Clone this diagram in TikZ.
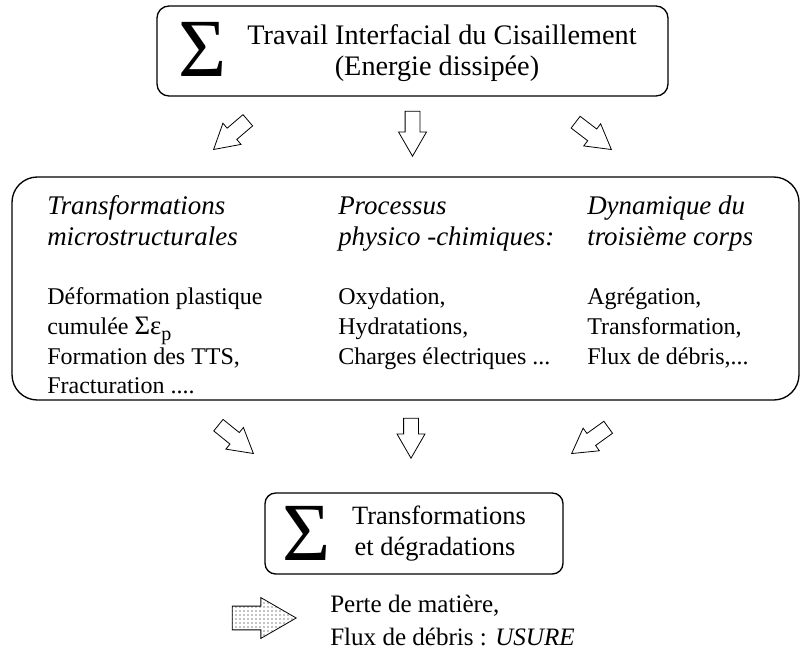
\documentclass[tikz,border=0pt]{standalone}
\usepackage{fontspec}
\setmainfont{Liberation Serif}
\newfontfamily\sigfont{Liberation Serif}
\usetikzlibrary{shapes.arrows,patterns}
\begin{document}
\begin{tikzpicture}[x=0.75pt,y=-0.75pt,
  txt/.style={inner sep=0pt, anchor=base west},
  ctxt/.style={inner sep=0pt, anchor=base},
  topfont/.style={font=\fontsize{21.2pt}{24pt}\selectfont},
  headfont/.style={font=\fontsize{20.2pt}{24pt}\selectfont\itshape},
  bodyfont/.style={font=\fontsize{18pt}{22pt}\selectfont},
  botfont/.style={font=\fontsize{19.8pt}{24pt}\selectfont},
  endfont/.style={font=\fontsize{18.8pt}{22pt}\selectfont},
  sigma/.style={inner sep=0pt, font=\fontsize{62pt}{62pt}\sigfont},
  blockarrow/.style={single arrow, draw, line width=0.6pt, inner xsep=0pt,
    inner ysep=5.25pt, single arrow head extend=4.9pt,
    single arrow tip angle=60, minimum width=0pt, minimum height=33.75pt, anchor=tip}
]
\useasboundingbox (0,0) rectangle (802,667);

% top box
\draw[line width=1pt, rounded corners=9pt] (157,6) rectangle (668,96);
\node[sigma] (s1) at (203,49) {Σ};
\node[topfont, ctxt] (t1) at (442,45) {Travail Interfacial du Cisaillement};
\node[topfont, ctxt] (t2) at (437,75) {(Energie dissipée)};

% top arrows
\node[blockarrow, rotate=-139.5] (a1) at (213,150) {};
\node[blockarrow, rotate=-90] (a2) at (412.5,157) {};
\node[blockarrow, rotate=-37.4] (a3) at (612,150) {};

% middle box
\draw[line width=1pt, rounded corners=19pt] (12,177) rectangle (799,400);
\node[txt, headfont] (h1a) at (47,214) {Transformations};
\node[txt, headfont] (h1b) at (47,245) {microstructurales};
\node[txt, headfont] (h2a) at (338,214) {Processus};
\node[txt, headfont] (h2b) at (338,245) {physico -chimiques:};
\node[txt, headfont] (h3a) at (587,214) {Dynamique du};
\node[txt, headfont] (h3b) at (587,245) {troisième corps};

\node[txt, bodyfont] (b1a) at (47,304) {Déformation plastique};
\node[txt, bodyfont] (b1b) at (47,334) {cumulée {\fontsize{20pt}{22pt}\sigfont Σε}\raisebox{-4.5pt}{\fontsize{15pt}{16pt}\selectfont p}};
\node[txt, bodyfont] (b1c) at (47,364) {Formation des TTS,};
\node[txt, bodyfont] (b1d) at (47,393) {Fracturation ....};

\node[txt, bodyfont] (b2a) at (338,304) {Oxydation,};
\node[txt, bodyfont] (b2b) at (338,334) {Hydratations,};
\node[txt, bodyfont] (b2c) at (338,364) {Charges électriques ...};

\node[txt, bodyfont] (b3a) at (587,304) {Agrégation,};
\node[txt, bodyfont] (b3b) at (587,334) {Transformation,};
\node[txt, bodyfont] (b3c) at (587,364) {Flux de débris,...};

% lower arrows
\node[blockarrow, rotate=-39] (a4) at (254,454) {};
\node[blockarrow, rotate=-90, minimum height=30pt] (a5) at (411,459) {};
\node[blockarrow, rotate=-144.3] (a6) at (571,454) {};

% bottom box
\draw[line width=1pt, rounded corners=8pt] (265,493) rectangle (563,574);
\node[sigma] (s2) at (307,533) {Σ};
\node[ctxt, botfont] (u1) at (439,524) {Transformations};
\node[ctxt, botfont] (u2) at (435,555) {et dégradations};

% dotted arrow and final text
\node[single arrow, draw, line width=0.6pt, pattern=dots, inner xsep=0pt,
  inner ysep=8.6pt, single arrow head extend=6.4pt, single arrow tip angle=60,
  minimum width=0pt, minimum height=48pt, anchor=tip] (da) at (297,618) {};
\node[txt, endfont] (f1) at (330,612) {Perte de matière,};
\node[txt, endfont] (f2) at (330,645) {Flux de débris : \textit{USURE}};
\end{tikzpicture}
\end{document}
